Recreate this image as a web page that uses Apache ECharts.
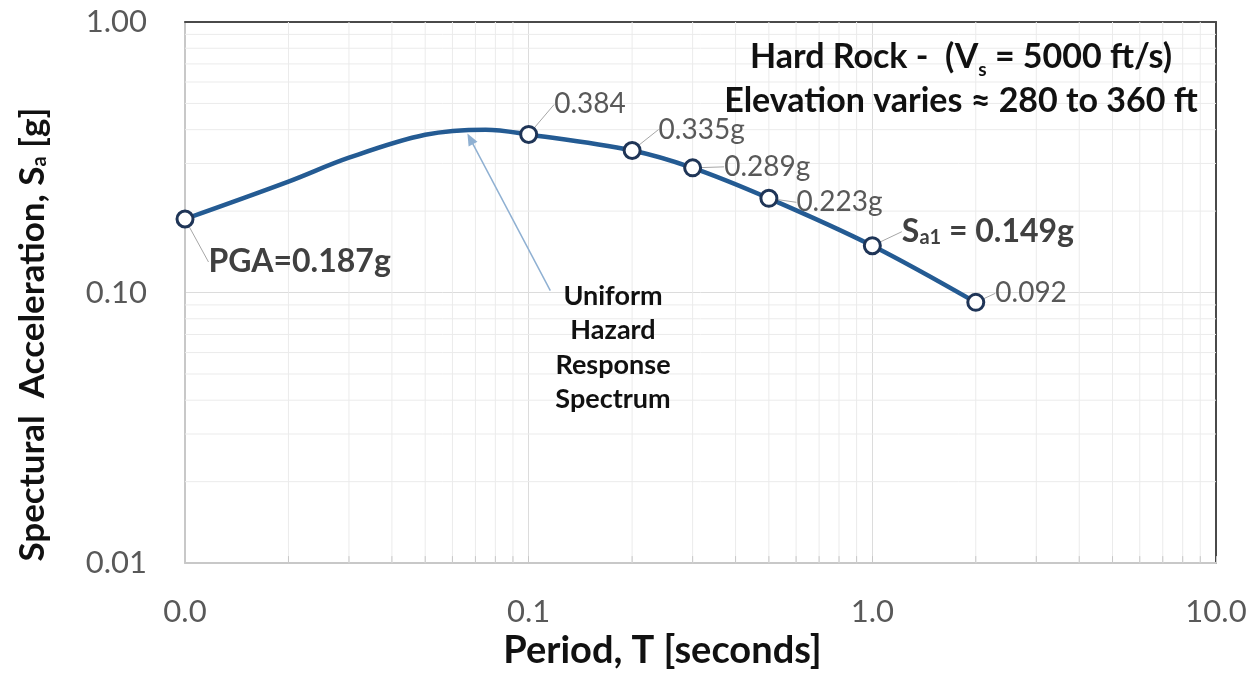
<!DOCTYPE html>
<html>
<head>
<meta charset="utf-8">
<script src="https://cdn.jsdelivr.net/npm/echarts@6/dist/echarts.min.js"></script>
<style>
  html, body { margin: 0; padding: 0; background: #fff; }
  #chart { width: 1260px; height: 675px; }
</style>
</head>
<body>
<div id="chart"></div>
<script>
// marked points of the spectrum
const periods = [0.01, 0.1, 0.2, 0.3, 0.5, 1, 2]
const saValues = [0.187, 0.384, 0.335, 0.289, 0.223, 0.149, 0.092]
const pointLabels = ['PGA=0.187g', '0.384', '0.335g', '0.289g', '0.223g', '{b|S}{sb|a1}{b| = 0.149g}', '0.092']
const bendPeriods = [0.02, 0.03, 0.05, 0.075]
const bendSa = [0.257, 0.315, 0.383, 0.4]

const xTickLabels = ['0.0', '0.1', '1.0', '10.0']
const yTickLabels = ['0.01', '0.10', '1.00']
const xMinor = [0.02, 0.03, 0.04, 0.05, 0.06, 0.07, 0.08, 0.09,
  0.2, 0.3, 0.4, 0.5, 0.6, 0.7, 0.8, 0.9,
  2, 3, 4, 5, 6, 7, 8, 9]
const yMinor = [0.02, 0.03, 0.04, 0.05, 0.06, 0.07, 0.08, 0.09,
  0.2, 0.3, 0.4, 0.5, 0.6, 0.7, 0.8, 0.9]

const X_MIN = 0.01, X_MAX = 10, Y_MIN = 0.01, Y_MAX = 1
const FONT = 'Lato'

// label nudges (px) away from default 'right' placement
const labelShift = [[9, 43], [11, -30], [12, -21], [17, -1], [13, 4], [15, -14], [5, -9]]

const curve = periods.map((t, i) => [t, saValues[i]])
  .concat(bendPeriods.map((t, i) => [t, bendSa[i]]))
  .sort((a, b) => a[0] - b[0])

const chart = echarts.init(document.getElementById('chart'))

const gridColor = '#EBEBEB'

chart.setOption({
  animation: false,
  grid: { left: 185, right: 44, top: 22, bottom: 107 },
  xAxis: [
    {
      type: 'log', logBase: 10, min: X_MIN, max: X_MAX,
      name: 'Period, T [seconds]',
      nameLocation: 'middle', nameGap: 62,
      nameTextStyle: { fontFamily: FONT, fontSize: 38, fontWeight: 'bold', color: '#111', padding: [0, 76, 0, 0] },
      axisLine: { lineStyle: { color: '#C8C8C8', width: 2 } },
      axisTick: { inside: true, length: 7, lineStyle: { color: '#C8C8C8' } },
      axisLabel: {
        margin: 33, fontFamily: FONT, fontSize: 31, color: '#595959',
        formatter: (v) => xTickLabels[Math.round(Math.log10(v)) + 2],
      },
      splitLine: { lineStyle: { color: '#DCDCDC' } },
    },
    {
      type: 'log', logBase: 10, min: X_MIN, max: X_MAX, position: 'top',
      axisLine: { lineStyle: { color: '#4A4A4A', width: 2 } },
      axisTick: { show: false }, axisLabel: { show: false }, splitLine: { show: false },
    },
  ],
  yAxis: [
    {
      type: 'log', logBase: 10, min: Y_MIN, max: Y_MAX,
      name: 'Spectural  Acceleration, S{sub|a} [g]',
      nameLocation: 'middle', nameGap: 135,
      nameTextStyle: {
        fontFamily: FONT, fontSize: 35, fontWeight: 'bold', color: '#111', padding: [0, 84, 0, 0],
        rich: { sub: { fontFamily: FONT, fontSize: 20, fontWeight: 'bold', color: '#111', verticalAlign: 'bottom' } },
      },
      axisLine: { show: true, lineStyle: { color: '#C8C8C8', width: 2 } },
      axisTick: { show: false },
      axisLabel: {
        margin: 38, fontFamily: FONT, fontSize: 31, color: '#595959',
        formatter: (v) => yTickLabels[Math.round(Math.log10(v)) + 2],
      },
      splitLine: { lineStyle: { color: '#DCDCDC' } },
    },
    {
      type: 'log', logBase: 10, min: Y_MIN, max: Y_MAX, position: 'right',
      axisLine: { show: true, lineStyle: { color: '#4A4A4A', width: 2 } },
      axisTick: { show: false }, axisLabel: { show: false }, splitLine: { show: false },
    },
  ],
  graphic: [
    {
      type: 'text', x: 961, y: 35, z: 10,
      style: {
        text: '{t|Hard Rock -  (V}{s|s}{t| = 5000 ft/s)}\n{t|Elevation varies ≈ 280 to 360 ft}',
        align: 'center', verticalAlign: 'top',
        rich: {
          t: { fontFamily: FONT, fontSize: 34, fontWeight: 'bold', fill: '#111', lineHeight: 44 },
          s: { fontFamily: FONT, fontSize: 19, fontWeight: 'bold', fill: '#111', lineHeight: 44, verticalAlign: 'bottom' },
        },
      },
    },
    {
      type: 'text', x: 613, y: 279, z: 10,
      style: {
        text: 'Uniform\nHazard\nResponse\nSpectrum',
        align: 'center', verticalAlign: 'top',
        fontFamily: FONT, fontSize: 27, fontWeight: 'bold', fill: '#111', lineHeight: 34.5,
      },
    },
  ],
  series: [
    {
      type: 'custom', silent: true, z: 1,
      data: xMinor.map((v) => [v, Y_MIN]),
      renderItem: (params, api) => {
        const a = api.coord([api.value(0), Y_MIN])
        const b = api.coord([api.value(0), Y_MAX])
        return {
          type: 'group',
          children: [
            { type: 'line', shape: { x1: a[0], y1: a[1], x2: b[0], y2: b[1] }, style: { stroke: gridColor, lineWidth: 1 } },
            { type: 'line', shape: { x1: a[0], y1: a[1], x2: a[0], y2: a[1] - 7 }, style: { stroke: '#C8C8C8', lineWidth: 1 } },
          ],
        }
      },
    },
    {
      type: 'custom', silent: true, z: 1,
      data: yMinor.map((v) => [X_MIN, v]),
      renderItem: (params, api) => {
        const a = api.coord([X_MIN, api.value(1)])
        const b = api.coord([X_MAX, api.value(1)])
        return { type: 'line', shape: { x1: a[0], y1: a[1], x2: b[0], y2: b[1] }, style: { stroke: gridColor, lineWidth: 1 } }
      },
    },
    {
      type: 'line', z: 3, silent: true,
      data: curve,
      smooth: 0.35,
      showSymbol: false,
      lineStyle: { color: '#245B93', width: 4.5 },
      markLine: {
        silent: true,
        symbol: ['none', 'triangle'],
        symbolSize: [10, 12],
        label: { show: false },
        lineStyle: { color: '#8FB0D2', width: 1.5, type: 'solid' },
        data: [[{ coord: [0.1156, 0.1017] }, { coord: [0.0676, 0.37] }]],
      },
    },
    {
      type: 'scatter', z: 4,
      data: periods.map((t, i) => i === 0
        ? { value: [t, saValues[i]], label: { fontWeight: 'bold', fontSize: 32, color: '#404040' } }
        : [t, saValues[i]]),
      symbol: 'circle', symbolSize: 16,
      itemStyle: { color: '#fff', borderColor: '#1F3557', borderWidth: 3, opacity: 1 },
      label: {
        show: true, position: 'right', distance: 5,
        fontFamily: FONT, fontSize: 28, color: '#595959',
        formatter: (p) => pointLabels[p.dataIndex],
        rich: {
          b: { fontFamily: FONT, fontSize: 32, fontWeight: 'bold', color: '#404040' },
          sb: { fontFamily: FONT, fontSize: 20, fontWeight: 'bold', color: '#404040', verticalAlign: 'bottom' },
        },
      },
      labelLine: { show: true, lineStyle: { color: '#A6A6A6', width: 1 } },
      labelLayout: (p) => ({ dx: labelShift[p.dataIndex][0], dy: labelShift[p.dataIndex][1] }),
    },
  ],
})
</script>
</body>
</html>
